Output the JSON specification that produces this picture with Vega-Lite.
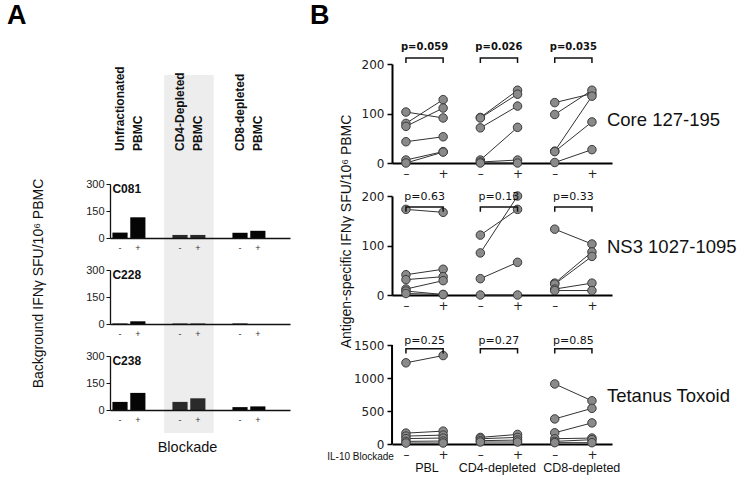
{
"$schema": "https://vega.github.io/schema/vega-lite/v6.json",
"padding": {"left": 6, "top": 2, "right": 0, "bottom": 0},
"config": {"view": {"stroke": null}, "font": "Liberation Sans"},
"datasets": {
"bars": [
{"p":"C081","g":"U","b":"-","v":30},{"p":"C081","g":"U","b":"+","v":115},{"p":"C081","g":"CD4","b":"-","v":17},{"p":"C081","g":"CD4","b":"+","v":17},{"p":"C081","g":"CD8","b":"-","v":29},{"p":"C081","g":"CD8","b":"+","v":40},
{"p":"C228","g":"U","b":"-","v":3},{"p":"C228","g":"U","b":"+","v":15},{"p":"C228","g":"CD4","b":"-","v":3},{"p":"C228","g":"CD4","b":"+","v":3},{"p":"C228","g":"CD8","b":"-","v":3},{"p":"C228","g":"CD8","b":"+","v":0},
{"p":"C238","g":"U","b":"-","v":45},{"p":"C238","g":"U","b":"+","v":95},{"p":"C238","g":"CD4","b":"-","v":45},{"p":"C238","g":"CD4","b":"+","v":65},{"p":"C238","g":"CD8","b":"-","v":16},{"p":"C238","g":"CD8","b":"+","v":20}
],
"pts": [
{"ag":"Core","c":"PBL -","id":"p1","v":103},{"ag":"Core","c":"PBL +","id":"p1","v":91},
{"ag":"Core","c":"PBL -","id":"p2","v":80},{"ag":"Core","c":"PBL +","id":"p2","v":128},
{"ag":"Core","c":"PBL -","id":"p3","v":74},{"ag":"Core","c":"PBL +","id":"p3","v":111},
{"ag":"Core","c":"PBL -","id":"p4","v":43},{"ag":"Core","c":"PBL +","id":"p4","v":53},
{"ag":"Core","c":"PBL -","id":"p5","v":6},{"ag":"Core","c":"PBL +","id":"p5","v":23},
{"ag":"Core","c":"PBL -","id":"p6","v":0},{"ag":"Core","c":"PBL +","id":"p6","v":22},
{"ag":"Core","c":"CD4 -","id":"a1","v":92},{"ag":"Core","c":"CD4 +","id":"a1","v":147},
{"ag":"Core","c":"CD4 -","id":"a2","v":91},{"ag":"Core","c":"CD4 +","id":"a2","v":139},
{"ag":"Core","c":"CD4 -","id":"a3","v":71},{"ag":"Core","c":"CD4 +","id":"a3","v":115},
{"ag":"Core","c":"CD4 -","id":"a4","v":6},{"ag":"Core","c":"CD4 +","id":"a4","v":72},
{"ag":"Core","c":"CD4 -","id":"a5","v":2},{"ag":"Core","c":"CD4 +","id":"a5","v":6},
{"ag":"Core","c":"CD4 -","id":"a6","v":0},{"ag":"Core","c":"CD4 +","id":"a6","v":0},
{"ag":"Core","c":"CD8 -","id":"b1","v":122},{"ag":"Core","c":"CD8 +","id":"b1","v":140},
{"ag":"Core","c":"CD8 -","id":"b2","v":98},{"ag":"Core","c":"CD8 +","id":"b2","v":147},
{"ag":"Core","c":"CD8 -","id":"b3","v":24},{"ag":"Core","c":"CD8 +","id":"b3","v":135},
{"ag":"Core","c":"CD8 -","id":"b4","v":23},{"ag":"Core","c":"CD8 +","id":"b4","v":83},
{"ag":"Core","c":"CD8 -","id":"b5","v":1},{"ag":"Core","c":"CD8 +","id":"b5","v":27},
{"ag":"NS3","c":"PBL -","id":"p1","v":173},{"ag":"NS3","c":"PBL +","id":"p1","v":167},
{"ag":"NS3","c":"PBL -","id":"p2","v":41},{"ag":"NS3","c":"PBL +","id":"p2","v":52},
{"ag":"NS3","c":"PBL -","id":"p3","v":31},{"ag":"NS3","c":"PBL +","id":"p3","v":37},
{"ag":"NS3","c":"PBL -","id":"p4","v":12},{"ag":"NS3","c":"PBL +","id":"p4","v":29},
{"ag":"NS3","c":"PBL -","id":"p5","v":8},{"ag":"NS3","c":"PBL +","id":"p5","v":1},
{"ag":"NS3","c":"PBL -","id":"p6","v":3},{"ag":"NS3","c":"PBL +","id":"p6","v":1},
{"ag":"NS3","c":"CD4 -","id":"a1","v":121},{"ag":"NS3","c":"CD4 +","id":"a1","v":173},
{"ag":"NS3","c":"CD4 -","id":"a2","v":85},{"ag":"NS3","c":"CD4 +","id":"a2","v":200},
{"ag":"NS3","c":"CD4 -","id":"a3","v":33},{"ag":"NS3","c":"CD4 +","id":"a3","v":66},
{"ag":"NS3","c":"CD4 -","id":"a4","v":0},{"ag":"NS3","c":"CD4 +","id":"a4","v":0},
{"ag":"NS3","c":"CD8 -","id":"b1","v":133},{"ag":"NS3","c":"CD8 +","id":"b1","v":103},
{"ag":"NS3","c":"CD8 -","id":"b2","v":24},{"ag":"NS3","c":"CD8 +","id":"b2","v":87},
{"ag":"NS3","c":"CD8 -","id":"b3","v":22},{"ag":"NS3","c":"CD8 +","id":"b3","v":78},
{"ag":"NS3","c":"CD8 -","id":"b4","v":12},{"ag":"NS3","c":"CD8 +","id":"b4","v":24},
{"ag":"NS3","c":"CD8 -","id":"b5","v":9},{"ag":"NS3","c":"CD8 +","id":"b5","v":9},
{"ag":"Tet","c":"PBL -","id":"p1","v":1230},{"ag":"Tet","c":"PBL +","id":"p1","v":1340},
{"ag":"Tet","c":"PBL -","id":"p2","v":165},{"ag":"Tet","c":"PBL +","id":"p2","v":195},
{"ag":"Tet","c":"PBL -","id":"p3","v":120},{"ag":"Tet","c":"PBL +","id":"p3","v":135},
{"ag":"Tet","c":"PBL -","id":"p4","v":82},{"ag":"Tet","c":"PBL +","id":"p4","v":90},
{"ag":"Tet","c":"PBL -","id":"p5","v":40},{"ag":"Tet","c":"PBL +","id":"p5","v":45},
{"ag":"Tet","c":"PBL -","id":"p6","v":15},{"ag":"Tet","c":"PBL +","id":"p6","v":15},
{"ag":"Tet","c":"CD4 -","id":"a1","v":100},{"ag":"Tet","c":"CD4 +","id":"a1","v":145},
{"ag":"Tet","c":"CD4 -","id":"a2","v":80},{"ag":"Tet","c":"CD4 +","id":"a2","v":100},
{"ag":"Tet","c":"CD4 -","id":"a3","v":50},{"ag":"Tet","c":"CD4 +","id":"a3","v":60},
{"ag":"Tet","c":"CD4 -","id":"a4","v":30},{"ag":"Tet","c":"CD4 +","id":"a4","v":30},
{"ag":"Tet","c":"CD8 -","id":"b1","v":910},{"ag":"Tet","c":"CD8 +","id":"b1","v":655},
{"ag":"Tet","c":"CD8 -","id":"b2","v":380},{"ag":"Tet","c":"CD8 +","id":"b2","v":540},
{"ag":"Tet","c":"CD8 -","id":"b3","v":170},{"ag":"Tet","c":"CD8 +","id":"b3","v":320},
{"ag":"Tet","c":"CD8 -","id":"b4","v":80},{"ag":"Tet","c":"CD8 +","id":"b4","v":90},
{"ag":"Tet","c":"CD8 -","id":"b5","v":40},{"ag":"Tet","c":"CD8 +","id":"b5","v":65},
{"ag":"Tet","c":"CD8 -","id":"b6","v":20},{"ag":"Tet","c":"CD8 +","id":"b6","v":20}
],
"br": [
{"ag":"Core","g":"PBL","c":"PBL -","o":1,"v":202},{"ag":"Core","g":"PBL","c":"PBL -","o":2,"v":212},{"ag":"Core","g":"PBL","c":"PBL +","o":3,"v":212},{"ag":"Core","g":"PBL","c":"PBL +","o":4,"v":202},
{"ag":"Core","g":"CD4","c":"CD4 -","o":1,"v":202},{"ag":"Core","g":"CD4","c":"CD4 -","o":2,"v":212},{"ag":"Core","g":"CD4","c":"CD4 +","o":3,"v":212},{"ag":"Core","g":"CD4","c":"CD4 +","o":4,"v":202},
{"ag":"Core","g":"CD8","c":"CD8 -","o":1,"v":202},{"ag":"Core","g":"CD8","c":"CD8 -","o":2,"v":212},{"ag":"Core","g":"CD8","c":"CD8 +","o":3,"v":212},{"ag":"Core","g":"CD8","c":"CD8 +","o":4,"v":202},
{"ag":"NS3","g":"PBL","c":"PBL -","o":1,"v":168},{"ag":"NS3","g":"PBL","c":"PBL -","o":2,"v":178},{"ag":"NS3","g":"PBL","c":"PBL +","o":3,"v":178},{"ag":"NS3","g":"PBL","c":"PBL +","o":4,"v":168},
{"ag":"NS3","g":"CD4","c":"CD4 -","o":1,"v":168},{"ag":"NS3","g":"CD4","c":"CD4 -","o":2,"v":178},{"ag":"NS3","g":"CD4","c":"CD4 +","o":3,"v":178},{"ag":"NS3","g":"CD4","c":"CD4 +","o":4,"v":168},
{"ag":"NS3","g":"CD8","c":"CD8 -","o":1,"v":168},{"ag":"NS3","g":"CD8","c":"CD8 -","o":2,"v":178},{"ag":"NS3","g":"CD8","c":"CD8 +","o":3,"v":178},{"ag":"NS3","g":"CD8","c":"CD8 +","o":4,"v":168},
{"ag":"Tet","g":"PBL","c":"PBL -","o":1,"v":1370},{"ag":"Tet","g":"PBL","c":"PBL -","o":2,"v":1444},{"ag":"Tet","g":"PBL","c":"PBL +","o":3,"v":1444},{"ag":"Tet","g":"PBL","c":"PBL +","o":4,"v":1370},
{"ag":"Tet","g":"CD4","c":"CD4 -","o":1,"v":1370},{"ag":"Tet","g":"CD4","c":"CD4 -","o":2,"v":1444},{"ag":"Tet","g":"CD4","c":"CD4 +","o":3,"v":1444},{"ag":"Tet","g":"CD4","c":"CD4 +","o":4,"v":1370},
{"ag":"Tet","g":"CD8","c":"CD8 -","o":1,"v":1370},{"ag":"Tet","g":"CD8","c":"CD8 -","o":2,"v":1444},{"ag":"Tet","g":"CD8","c":"CD8 +","o":3,"v":1444},{"ag":"Tet","g":"CD8","c":"CD8 +","o":4,"v":1370}
],
"pv": [
{"ag":"Core","c":"PBL -","p":"p=0.059","v":234},{"ag":"Core","c":"CD4 -","p":"p=0.026","v":234},{"ag":"Core","c":"CD8 -","p":"p=0.035","v":234},
{"ag":"NS3","c":"PBL -","p":"p=0.63","v":197},{"ag":"NS3","c":"CD4 -","p":"p=0.13","v":197},{"ag":"NS3","c":"CD8 -","p":"p=0.33","v":197},
{"ag":"Tet","c":"PBL -","p":"p=0.25","v":1565},{"ag":"Tet","c":"CD4 -","p":"p=0.27","v":1565},{"ag":"Tet","c":"CD8 -","p":"p=0.85","v":1565}
],
"hdr": [
{"g":"U","t":"Unfractionated\nPBMC"},{"g":"CD4","t":"CD4-Depleted\nPBMC"},{"g":"CD8","t":"CD8-depleted\nPBMC"}
],
"one": [{}]
},
"spacing": 19,
"hconcat": [
{
"bounds": "flush",
"spacing": 32,
"vconcat": [
{
"width": 180, "height": 88,
"layer": [
{"data": {"name": "one"}, "mark": {"type": "bar", "fill": "#ededed", "width": {"band": 1.5}},
 "encoding": {"x": {"datum": "CD4", "type": "nominal", "scale": {"domain": ["U","CD4","CD8"], "paddingInner": 0.45, "paddingOuter": 0.225, "align": 0.09}, "axis": null},
  "y": {"datum": 77, "type": "quantitative", "scale": {"domain": [0, 88], "nice": false}, "axis": null}, "y2": {"datum": -32}}},
{"data": {"name": "hdr"}, "mark": {"type": "text", "angle": 270, "align": "left", "baseline": "middle", "dy": -9.25, "lineBreak": "\n", "lineHeight": 18.5, "font": "Liberation Sans", "fontWeight": "bold", "fontSize": 12, "color": "#111"},
 "encoding": {"x": {"field": "g", "type": "nominal"}, "y": {"datum": 1, "type": "quantitative"}, "text": {"field": "t"}}},
{"data": {"name": "one"}, "mark": {"type": "text", "text": "A", "align": "left", "baseline": "alphabetic", "dx": -105.5, "font": "Liberation Sans", "fontWeight": "bold", "fontSize": 27, "color": "#000"},
 "encoding": {"x": {"datum": "U", "type": "nominal", "bandPosition": 0}, "y": {"datum": 128, "type": "quantitative"}}}
]
},
{
"width": 180, "height": 54,
"layer": [
{"data": {"name": "one"}, "mark": {"type": "bar", "fill": "#ededed", "width": {"band": 1.5}},
 "encoding": {"x": {"datum": "CD4", "type": "nominal", "scale": {"domain": ["U","CD4","CD8"], "paddingInner": 0.45, "paddingOuter": 0.225, "align": 0.09}, "axis": {"title": null, "labels": false, "ticks": false, "domainColor": "#111", "domainWidth": 1.3, "zindex": 1}},
  "y": {"datum": 300, "type": "quantitative", "scale": {"domain": [0, 300], "nice": false}, "axis": {"values": [0,150,300], "tickCount": 10, "labelOverlap": false, "title": null, "grid": false, "domainColor": "#111", "domainWidth": 1.3, "tickColor": "#111", "tickSize": 4, "labelFont": "Liberation Sans", "labelFontSize": 11, "labelColor": "#222", "labelPadding": 2, "zindex": 1}},
  "y2": {"datum": -178}}},
{"data": {"name": "bars"}, "transform": [{"filter": "datum.p == 'C081'"}], "mark": {"type": "bar"},
 "encoding": {"x": {"field": "g", "type": "nominal"}, "xOffset": {"field": "b", "type": "nominal", "scale": {"domain": ["-","+"], "paddingInner": 0.15, "paddingOuter": 0}}, "y": {"field": "v", "type": "quantitative", "stack": null},
  "color": {"field": "g", "type": "nominal", "scale": {"domain": ["U","CD4","CD8"], "range": ["#050505","#2a2a2a","#050505"]}, "legend": null}}},
{"data": {"name": "bars"}, "transform": [{"filter": "datum.p == 'C081'"}], "mark": {"type": "text", "dy": 10, "fontSize": 9, "color": "#333", "baseline": "middle"},
 "encoding": {"x": {"field": "g", "type": "nominal"}, "xOffset": {"field": "b", "type": "nominal"}, "y": {"datum": 0, "type": "quantitative"}, "text": {"field": "b"}}},
{"data": {"name": "one"}, "mark": {"type": "text", "text": "C081", "align": "left", "baseline": "top", "font": "Liberation Sans", "fontWeight": "bold", "fontSize": 12, "color": "#111"},
 "encoding": {"x": {"datum": "U", "type": "nominal", "bandPosition": 0}, "y": {"datum": 300, "type": "quantitative"}}}
]
},
{
"width": 180, "height": 54,
"layer": [
{"data": {"name": "one"}, "mark": {"type": "bar", "fill": "#ededed", "width": {"band": 1.5}},
 "encoding": {"x": {"datum": "CD4", "type": "nominal", "scale": {"domain": ["U","CD4","CD8"], "paddingInner": 0.45, "paddingOuter": 0.225, "align": 0.09}, "axis": {"title": null, "labels": false, "ticks": false, "domainColor": "#111", "domainWidth": 1.3, "zindex": 1}},
  "y": {"datum": 300, "type": "quantitative", "scale": {"domain": [0, 300], "nice": false}, "axis": {"values": [0,150,300], "tickCount": 10, "labelOverlap": false, "title": "Background IFNγ SFU/10⁶ PBMC", "titleFont": "Liberation Sans", "titleFontSize": 14, "titleFontWeight": "normal", "titleColor": "#111", "titleAngle": 270, "titleAlign": "center", "titleBaseline": "middle", "titleX": -72, "titleY": 13, "grid": false, "domainColor": "#111", "domainWidth": 1.3, "tickColor": "#111", "tickSize": 4, "labelFont": "Liberation Sans", "labelFontSize": 11, "labelColor": "#222", "labelPadding": 2, "zindex": 1}},
  "y2": {"datum": -178}}},
{"data": {"name": "bars"}, "transform": [{"filter": "datum.p == 'C228'"}], "mark": {"type": "bar"},
 "encoding": {"x": {"field": "g", "type": "nominal"}, "xOffset": {"field": "b", "type": "nominal", "scale": {"domain": ["-","+"], "paddingInner": 0.15, "paddingOuter": 0}}, "y": {"field": "v", "type": "quantitative", "stack": null},
  "color": {"field": "g", "type": "nominal", "scale": {"domain": ["U","CD4","CD8"], "range": ["#050505","#2a2a2a","#050505"]}, "legend": null}}},
{"data": {"name": "bars"}, "transform": [{"filter": "datum.p == 'C228'"}], "mark": {"type": "text", "dy": 10, "fontSize": 9, "color": "#333", "baseline": "middle"},
 "encoding": {"x": {"field": "g", "type": "nominal"}, "xOffset": {"field": "b", "type": "nominal"}, "y": {"datum": 0, "type": "quantitative"}, "text": {"field": "b"}}},
{"data": {"name": "one"}, "mark": {"type": "text", "text": "C228", "align": "left", "baseline": "top", "font": "Liberation Sans", "fontWeight": "bold", "fontSize": 12, "color": "#111"},
 "encoding": {"x": {"datum": "U", "type": "nominal", "bandPosition": 0}, "y": {"datum": 300, "type": "quantitative"}}}
]
},
{
"width": 180, "height": 54,
"layer": [
{"data": {"name": "one"}, "mark": {"type": "bar", "fill": "#ededed", "width": {"band": 1.5}},
 "encoding": {"x": {"datum": "CD4", "type": "nominal", "scale": {"domain": ["U","CD4","CD8"], "paddingInner": 0.45, "paddingOuter": 0.225, "align": 0.09}, "axis": {"title": "Blockade", "titleFont": "Liberation Sans", "titleFontSize": 14.5, "titleFontWeight": "normal", "titleColor": "#111", "titleX": 77, "titleY": 37, "titleBaseline": "middle", "titleAlign": "center", "labels": false, "ticks": false, "domainColor": "#111", "domainWidth": 1.3, "zindex": 1}},
  "y": {"datum": 300, "type": "quantitative", "scale": {"domain": [0, 300], "nice": false}, "axis": {"values": [0,150,300], "tickCount": 10, "labelOverlap": false, "title": null, "grid": false, "domainColor": "#111", "domainWidth": 1.3, "tickColor": "#111", "tickSize": 4, "labelFont": "Liberation Sans", "labelFontSize": 11, "labelColor": "#222", "labelPadding": 2, "zindex": 1}},
  "y2": {"datum": -128}}},
{"data": {"name": "bars"}, "transform": [{"filter": "datum.p == 'C238'"}], "mark": {"type": "bar"},
 "encoding": {"x": {"field": "g", "type": "nominal"}, "xOffset": {"field": "b", "type": "nominal", "scale": {"domain": ["-","+"], "paddingInner": 0.15, "paddingOuter": 0}}, "y": {"field": "v", "type": "quantitative", "stack": null},
  "color": {"field": "g", "type": "nominal", "scale": {"domain": ["U","CD4","CD8"], "range": ["#050505","#2a2a2a","#050505"]}, "legend": null}}},
{"data": {"name": "bars"}, "transform": [{"filter": "datum.p == 'C238'"}], "mark": {"type": "text", "dy": 10, "fontSize": 9, "color": "#333", "baseline": "middle"},
 "encoding": {"x": {"field": "g", "type": "nominal"}, "xOffset": {"field": "b", "type": "nominal"}, "y": {"datum": 0, "type": "quantitative"}, "text": {"field": "b"}}},
{"data": {"name": "one"}, "mark": {"type": "text", "text": "C238", "align": "left", "baseline": "top", "font": "Liberation Sans", "fontWeight": "bold", "fontSize": 12, "color": "#111"},
 "encoding": {"x": {"datum": "U", "type": "nominal", "bandPosition": 0}, "y": {"datum": 300, "type": "quantitative"}}}
]
}
]
},
{
"bounds": "flush",
"spacing": 33,
"vconcat": [
{
"width": 220, "height": 99,
"layer": [
{"data": {"name": "pts"}, "transform": [{"filter": "datum.ag == 'Core'"}], "mark": {"type": "line", "color": "#333", "strokeWidth": 1},
 "encoding": {"x": {"field": "c", "type": "nominal", "scale": {"type": "point", "domain": ["PBL -","PBL +","CD4 -","CD4 +","CD8 -","CD8 +"], "padding": 0.457, "align": 0.41}, "axis": {"title": null, "ticks": false, "domainColor": "#000", "domainWidth": 2, "labelAngle": 0, "labelExpr": "slice(datum.value,-1) == '-' ? '–' : '+'", "labelFont": "DejaVu Sans", "labelFontSize": 12, "labelColor": "#222", "labelPadding": 5}},
  "y": {"field": "v", "type": "quantitative", "scale": {"domain": [0, 200], "nice": false}, "axis": {"values": [0,100,200], "tickCount": 10, "labelOverlap": false, "title": null, "grid": false, "domainColor": "#000", "domainWidth": 2, "tickColor": "#000", "tickWidth": 1.5, "tickSize": 5, "labelFont": "DejaVu Sans", "labelFontSize": 12, "labelColor": "#222", "labelPadding": 3}},
  "detail": {"field": "id"}}},
{"data": {"name": "pts"}, "transform": [{"filter": "datum.ag == 'Core'"}], "mark": {"type": "circle", "size": 72, "fill": "#8a8a8a", "stroke": "#3a3a3a", "strokeWidth": 1, "opacity": 1},
 "encoding": {"x": {"field": "c", "type": "nominal"}, "y": {"field": "v", "type": "quantitative"}}},
{"data": {"name": "br"}, "transform": [{"filter": "datum.ag == 'Core'"}], "mark": {"type": "line", "color": "#111", "strokeWidth": 1.5},
 "encoding": {"x": {"field": "c", "type": "nominal"}, "y": {"field": "v", "type": "quantitative"}, "detail": {"field": "g"}, "order": {"field": "o"}}},
{"data": {"name": "pv"}, "transform": [{"filter": "datum.ag == 'Core'"}], "mark": {"type": "text", "dx": 18.6, "baseline": "middle", "font": "DejaVu Sans", "fontSize": 10, "fontWeight": "bold", "color": "#111"},
 "encoding": {"x": {"field": "c", "type": "nominal"}, "y": {"field": "v", "type": "quantitative"}, "text": {"field": "p"}}},
{"data": {"name": "one"}, "mark": {"type": "text", "text": "Core 127-195", "align": "left", "baseline": "middle", "dx": 15, "font": "Liberation Sans", "fontSize": 18.5, "color": "#111"},
 "encoding": {"x": {"datum": "CD8 +", "type": "nominal"}, "y": {"datum": 87, "type": "quantitative"}}},
{"data": {"name": "one"}, "mark": {"type": "text", "text": "B", "align": "left", "baseline": "alphabetic", "dx": -96, "font": "Liberation Sans", "fontWeight": "bold", "fontSize": 27, "color": "#000"},
 "encoding": {"x": {"datum": "PBL -", "type": "nominal"}, "y": {"datum": 280.8, "type": "quantitative"}}}
]
},
{
"width": 220, "height": 99,
"layer": [
{"data": {"name": "pts"}, "transform": [{"filter": "datum.ag == 'NS3'"}], "mark": {"type": "line", "color": "#333", "strokeWidth": 1},
 "encoding": {"x": {"field": "c", "type": "nominal", "scale": {"type": "point", "domain": ["PBL -","PBL +","CD4 -","CD4 +","CD8 -","CD8 +"], "padding": 0.457, "align": 0.41}, "axis": {"title": null, "ticks": false, "domainColor": "#000", "domainWidth": 2, "labelAngle": 0, "labelExpr": "slice(datum.value,-1) == '-' ? '–' : '+'", "labelFont": "DejaVu Sans", "labelFontSize": 12, "labelColor": "#222", "labelPadding": 5}},
  "y": {"field": "v", "type": "quantitative", "scale": {"domain": [0, 200], "nice": false}, "axis": {"values": [0,100,200], "tickCount": 10, "labelOverlap": false, "title": "Antigen-specific IFNγ SFU/10⁶ PBMC", "titleFont": "Liberation Sans", "titleFontSize": 14, "titleFontWeight": "normal", "titleColor": "#111", "titleAngle": 270, "titleAlign": "center", "titleBaseline": "middle", "titleX": -46, "titleY": 35, "grid": false, "domainColor": "#000", "domainWidth": 2, "tickColor": "#000", "tickWidth": 1.5, "tickSize": 5, "labelFont": "DejaVu Sans", "labelFontSize": 12, "labelColor": "#222", "labelPadding": 3}},
  "detail": {"field": "id"}}},
{"data": {"name": "pts"}, "transform": [{"filter": "datum.ag == 'NS3'"}], "mark": {"type": "circle", "size": 72, "fill": "#8a8a8a", "stroke": "#3a3a3a", "strokeWidth": 1, "opacity": 1},
 "encoding": {"x": {"field": "c", "type": "nominal"}, "y": {"field": "v", "type": "quantitative"}}},
{"data": {"name": "br"}, "transform": [{"filter": "datum.ag == 'NS3'"}], "mark": {"type": "line", "color": "#111", "strokeWidth": 1.5},
 "encoding": {"x": {"field": "c", "type": "nominal"}, "y": {"field": "v", "type": "quantitative"}, "detail": {"field": "g"}, "order": {"field": "o"}}},
{"data": {"name": "pv"}, "transform": [{"filter": "datum.ag == 'NS3'"}], "mark": {"type": "text", "dx": 18.6, "baseline": "middle", "font": "DejaVu Sans", "fontSize": 11, "color": "#111"},
 "encoding": {"x": {"field": "c", "type": "nominal"}, "y": {"field": "v", "type": "quantitative"}, "text": {"field": "p"}}},
{"data": {"name": "one"}, "mark": {"type": "text", "text": "NS3 1027-1095", "align": "left", "baseline": "middle", "dx": 15, "font": "Liberation Sans", "fontSize": 18.5, "color": "#111"},
 "encoding": {"x": {"datum": "CD8 +", "type": "nominal"}, "y": {"datum": 96.5, "type": "quantitative"}}}
]
},
{
"width": 220, "height": 116,
"layer": [
{"data": {"name": "pts"}, "transform": [{"filter": "datum.ag == 'Tet'"}], "mark": {"type": "line", "color": "#333", "strokeWidth": 1},
 "encoding": {"x": {"field": "c", "type": "nominal", "scale": {"type": "point", "domain": ["PBL -","PBL +","CD4 -","CD4 +","CD8 -","CD8 +"], "padding": 0.457, "align": 0.41}, "axis": {"title": null, "ticks": false, "domainColor": "#000", "domainWidth": 2, "labelAngle": 0, "labelExpr": "slice(datum.value,-1) == '-' ? '–' : '+'", "labelFont": "DejaVu Sans", "labelFontSize": 12, "labelColor": "#222", "labelPadding": 5}},
  "y": {"field": "v", "type": "quantitative", "scale": {"domain": [0, 1757.6], "nice": false}, "axis": {"values": [0,500,1000,1500], "tickCount": 10, "format": "d", "labelOverlap": false, "domain": false, "title": null, "grid": false, "tickColor": "#000", "tickWidth": 1.5, "tickSize": 5, "labelFont": "DejaVu Sans", "labelFontSize": 12, "labelColor": "#222", "labelPadding": 3}},
  "detail": {"field": "id"}}},
{"data": {"name": "one"}, "mark": {"type": "rule", "color": "#000", "strokeWidth": 2, "xOffset": -13.9},
 "encoding": {"x": {"datum": "PBL -", "type": "nominal"}, "y": {"datum": 0, "type": "quantitative"}, "y2": {"datum": 1500}}},
{"data": {"name": "pts"}, "transform": [{"filter": "datum.ag == 'Tet'"}], "mark": {"type": "circle", "size": 72, "fill": "#8a8a8a", "stroke": "#3a3a3a", "strokeWidth": 1, "opacity": 1},
 "encoding": {"x": {"field": "c", "type": "nominal"}, "y": {"field": "v", "type": "quantitative"}}},
{"data": {"name": "br"}, "transform": [{"filter": "datum.ag == 'Tet'"}], "mark": {"type": "line", "color": "#111", "strokeWidth": 1.5},
 "encoding": {"x": {"field": "c", "type": "nominal"}, "y": {"field": "v", "type": "quantitative"}, "detail": {"field": "g"}, "order": {"field": "o"}}},
{"data": {"name": "pv"}, "transform": [{"filter": "datum.ag == 'Tet'"}], "mark": {"type": "text", "dx": 18.6, "baseline": "middle", "font": "DejaVu Sans", "fontSize": 11, "color": "#111"},
 "encoding": {"x": {"field": "c", "type": "nominal"}, "y": {"field": "v", "type": "quantitative"}, "text": {"field": "p"}}},
{"data": {"name": "one"}, "mark": {"type": "text", "text": "Tetanus Toxoid", "align": "left", "baseline": "middle", "dx": 15, "font": "Liberation Sans", "fontSize": 18.5, "color": "#111"},
 "encoding": {"x": {"datum": "CD8 +", "type": "nominal"}, "y": {"datum": 732, "type": "quantitative"}}},
{"data": {"name": "one"}, "mark": {"type": "text", "text": "PBL", "dx": 21, "dy": 24, "baseline": "middle", "font": "Liberation Sans", "fontSize": 12.5, "color": "#111"},
 "encoding": {"x": {"datum": "PBL -", "type": "nominal"}, "y": {"datum": 0, "type": "quantitative"}}},
{"data": {"name": "one"}, "mark": {"type": "text", "text": "CD4-depleted", "dx": 17, "dy": 24, "baseline": "middle", "font": "Liberation Sans", "fontSize": 12.5, "color": "#111"},
 "encoding": {"x": {"datum": "CD4 -", "type": "nominal"}, "y": {"datum": 0, "type": "quantitative"}}},
{"data": {"name": "one"}, "mark": {"type": "text", "text": "CD8-depleted", "dx": 27, "dy": 24, "baseline": "middle", "font": "Liberation Sans", "fontSize": 12.5, "color": "#111"},
 "encoding": {"x": {"datum": "CD8 -", "type": "nominal"}, "y": {"datum": 0, "type": "quantitative"}}},
{"data": {"name": "one"}, "mark": {"type": "text", "text": "IL-10 Blockade", "align": "right", "baseline": "middle", "dx": -12, "dy": 13, "font": "Liberation Sans", "fontSize": 10, "color": "#111"},
 "encoding": {"x": {"datum": "PBL -", "type": "nominal"}, "y": {"datum": 0, "type": "quantitative"}}}
]
}
]
}
]
}
